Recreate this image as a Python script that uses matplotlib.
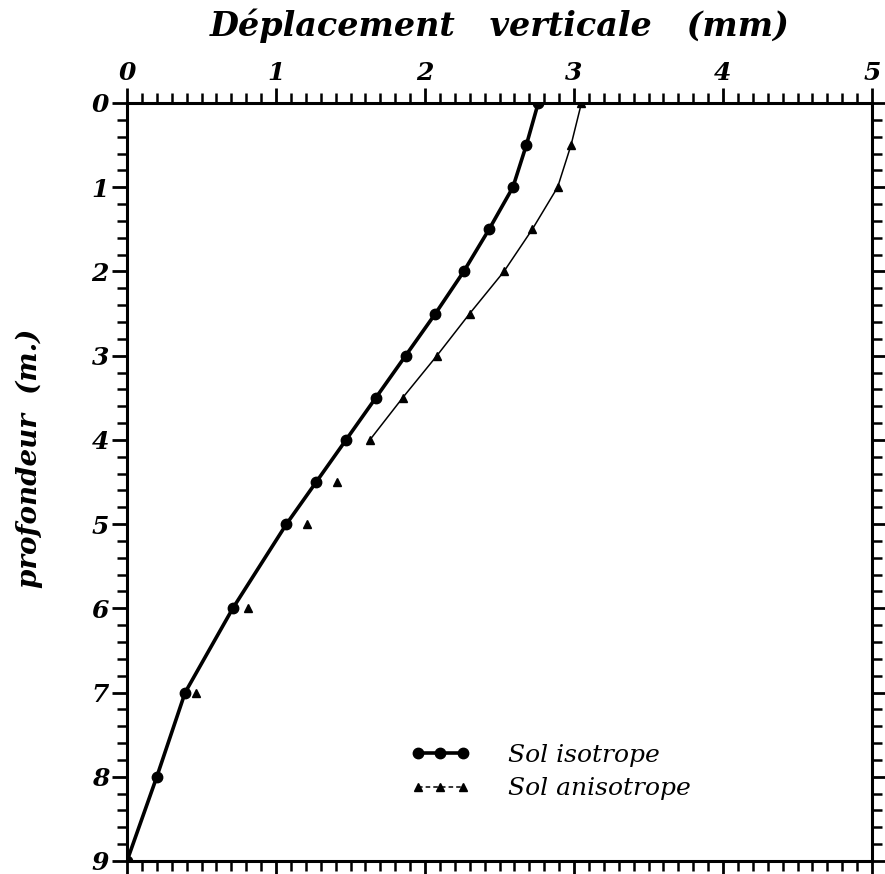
import matplotlib
matplotlib.use("Agg")
import matplotlib.pyplot as plt
from matplotlib.ticker import MultipleLocator

# Data
depth_iso = [0, 0.5, 1, 1.5, 2, 2.5, 3, 3.5, 4, 4.5, 5, 6, 7, 8, 9]
disp_iso = [2.76, 2.68, 2.59, 2.43, 2.26, 2.07, 1.87, 1.67, 1.47, 1.27, 1.07, 0.71, 0.39, 0.20, 0.0]
depth_aniso = [0, 0.5, 1, 1.5, 2, 2.5, 3, 3.5, 4, 4.5, 5, 6, 7]
disp_aniso = [3.05, 2.98, 2.89, 2.72, 2.53, 2.30, 2.08, 1.85, 1.63, 1.41, 1.21, 0.81, 0.46]
n_line_aniso = 9  # the anisotropic curve is drawn as a line down to 4 m only
label_iso = "Sol isotrope"
label_aniso = "Sol anisotrope"
xlabel = "Déplacement   verticale   (mm)"
ylabel = "profondeur  (m.)"

FONT = "DejaVu Serif"

fig = plt.figure(figsize=(8.85, 8.74), dpi=100)
ax = fig.add_axes([127/885, 1-861/874, (872-127)/885, (861-103)/874])

ax.plot(disp_iso, depth_iso, color="black", lw=2.6, marker="o", ms=7.5,
        label=label_iso, zorder=3)
ax.plot(disp_aniso[:n_line_aniso], depth_aniso[:n_line_aniso], color="black", lw=1.1,
        zorder=2)
ax.plot(disp_aniso, depth_aniso, ls="none", color="black", marker="^", ms=6, zorder=2)
# legend proxy for anisotropic series
ax.plot([], [], color="black", lw=1.1, ls=(0, (3, 2)), marker="^", ms=6, label=label_aniso)

ax.set_xlim(0, 5)
ax.set_ylim(9, 0)

ax.xaxis.set_label_position("top")
ax.xaxis.set_ticks_position("both")
ax.tick_params(axis="x", which="both", labelbottom=False, labeltop=True)
ax.yaxis.set_ticks_position("both")
ax.tick_params(axis="y", which="both", labelright=False, labelleft=True)

ax.xaxis.set_major_locator(MultipleLocator(1))
ax.xaxis.set_minor_locator(MultipleLocator(0.1))
ax.yaxis.set_major_locator(MultipleLocator(1))
ax.yaxis.set_minor_locator(MultipleLocator(0.2))

ax.tick_params(which="major", direction="out", length=11, width=2, pad=2)
ax.tick_params(which="minor", direction="out", length=7, width=1.8)

for lab in ax.get_xticklabels() + ax.get_yticklabels():
    lab.set_fontfamily(FONT)
    lab.set_fontstyle("italic")
    lab.set_fontweight("bold")
    lab.set_fontsize(18)

for sp in ax.spines.values():
    sp.set_linewidth(2.2)

ax.set_xlabel(xlabel, fontfamily=FONT, fontstyle="italic", fontweight="bold",
              fontsize=24, labelpad=18)
ax.set_ylabel(ylabel, fontfamily=FONT, fontstyle="italic", fontweight="bold",
              fontsize=20)
ax.yaxis.set_label_coords((43-127)/745, 1-(458-103)/758)

leg = ax.legend(loc="upper left", bbox_to_anchor=((410-127)/745, 1-(744-103)/758),
                frameon=False, numpoints=3, handlelength=2.4, handletextpad=1.5,
                labelspacing=0.42, borderpad=0, borderaxespad=0,
                prop=dict(family=FONT, style="italic", size=18))

fig.savefig("out.png", dpi=100)
